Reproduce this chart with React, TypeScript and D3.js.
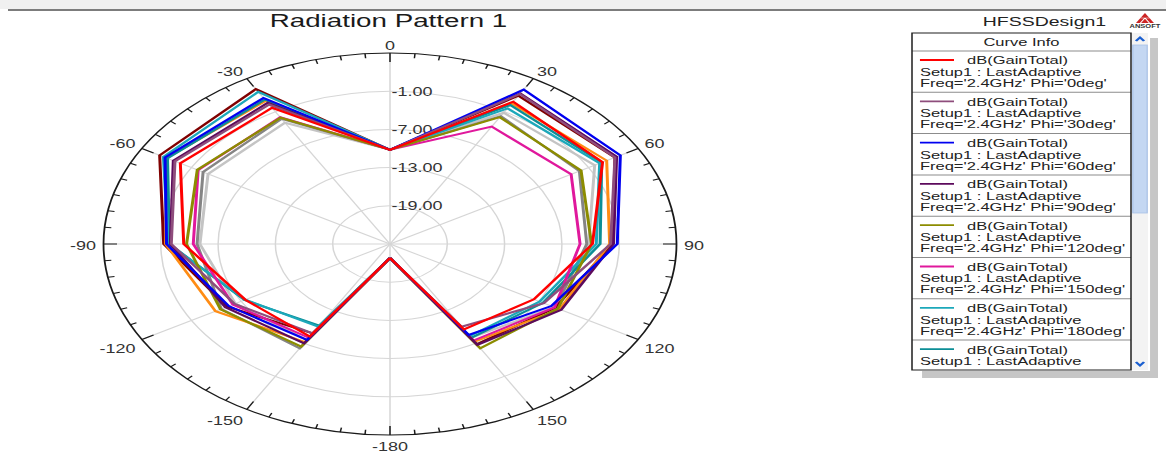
import { useEffect, useRef } from 'react';
import * as d3 from 'd3';

const WIDTH = 1166;
const HEIGHT = 456;
// the captured plot is stretched horizontally, so everything is drawn in a squeezed frame
const STRETCH = 1.5;
const FONT = '"Liberation Sans", Arial, sans-serif';

const THETA = [-180, -150, -120, -90, -60, -30, 0, 30, 60, 90, 120, 150, 180];

const PHI = ['0deg', '30deg', '60deg', '90deg', '120deg', '150deg', '180deg', '210deg', '240deg', '270deg', '300deg', '330deg'];

const CURVE_COLORS = [
  '#ff0000', '#8e4d7c', '#0000f0', '#5c0a5c', '#8c8c00', '#e0189c',
  '#1ca8ba', '#0c8e96', '#ff8c14', '#800000', '#858585', '#c4c4c4',
];

// dB(GainTotal) per theta, one array per phi cut
const GAIN_PHI_0 = [-22.8, -8.2, -7.5, -3.4, 0.35, -0.3, -10.2, 0.8, 0.7, -3.8, -7.6, -9.5, -22.8];
const GAIN_PHI_30 = [-22.8, -8.8, -6.2, -2.1, 1.0, 0.3, -10.2, 2.2, 2.2, -1.9, -6.4, -10.0, -22.8];
const GAIN_PHI_60 = [-22.8, -7.6, -5.5, -1.6, 2.2, 1.5, -10.2, 3.0, 2.85, -1.2, -5.5, -8.5, -22.8];
const GAIN_PHI_90 = [-22.8, -7.0, -5.1, -2.0, 1.2, 0.6, -10.2, 2.3, 2.4, -1.6, -4.3, -6.7, -22.8];
const GAIN_PHI_120 = [-22.8, -6.4, -4.5, -3.7, -1.7, -2.1, -10.2, -2.0, -1.9, -3.9, -4.7, -6.1, -22.8];
const GAIN_PHI_150 = [-22.8, -8.0, -6.0, -4.4, -1.8, -2.0, -10.2, -3.7, -3.1, -5.1, -5.1, -7.5, -22.8];
const GAIN_PHI_180 = [-22.8, -10.0, -7.5, -1.8, 2.4, 2.6, -10.2, -0.4, 0.35, -3.4, -6.9, -8.3, -22.8];
const GAIN_PHI_210 = [-22.8, -10.2, -7.4, -1.9, 1.9, 1.2, -10.2, 0.2, 0.6, -3.0, -6.5, -8.0, -22.8];
const GAIN_PHI_240 = [-22.8, -7.2, -3.9, -1.5, 2.0, 1.0, -10.2, 0.5, 1.2, -2.0, -4.5, -7.3, -22.8];
const GAIN_PHI_270 = [-22.8, -8.8, -5.3, -1.3, 2.85, 3.1, -10.2, 1.9, 2.2, -1.7, -5.0, -6.8, -22.8];
const GAIN_PHI_300 = [-22.8, -6.1, -4.6, -4.8, -2.4, -2.3, -10.2, -1.8, -2.1, -4.4, -5.0, -6.8, -22.8];
const GAIN_PHI_330 = [-22.8, -7.6, -6.3, -5.1, -3.0, -3.0, -10.2, -1.2, -0.25, -4.2, -5.2, -8.0, -22.8];

const GAIN = [
  GAIN_PHI_0, GAIN_PHI_30, GAIN_PHI_60, GAIN_PHI_90, GAIN_PHI_120, GAIN_PHI_150,
  GAIN_PHI_180, GAIN_PHI_210, GAIN_PHI_240, GAIN_PHI_270, GAIN_PHI_300, GAIN_PHI_330,
];

const R_MIN = -25;
const R_MAX = 5;
const RADIAL_TICKS = [-19, -13, -7, -1];
const ANGLE_TICKS = [-150, -120, -90, -60, -30, 0, 30, 60, 90, 120, 150, 180];

export default function App() {
  const svgRef = useRef<SVGSVGElement>(null);

  useEffect(() => {
    if (!svgRef.current) return;
    const svg = d3.select(svgRef.current);
    svg.selectAll('*').remove();

    // window chrome strip at the top
    svg.append('rect').attr('width', WIDTH).attr('height', 9).attr('fill', '#f0f0f0');
    svg.append('rect').attr('x', 8).attr('y', 9).attr('width', WIDTH - 8).attr('height', 2).attr('fill', '#7c7c7c');

    const root = svg.append('g').attr('transform', `scale(${STRETCH},1)`).style('font-family', FONT);

    root.append('text')
      .attr('x', 259).attr('y', 27)
      .attr('text-anchor', 'middle')
      .attr('font-size', 18.5).attr('fill', '#1a1a1a')
      .text('Radiation Pattern 1');

    const cx = 260;
    const cy = 244;
    const outer = 191;
    const r = d3.scaleLinear().domain([R_MIN, R_MAX]).range([0, outer]);
    const rad = (deg: number) => (deg * Math.PI) / 180;

    const chart = root.append('g').attr('transform', `translate(${cx},${cy})`);

    // grid rings
    chart.append('g').selectAll('circle').data(RADIAL_TICKS).join('circle')
      .attr('r', d => r(d))
      .attr('fill', 'none').attr('stroke', '#d6d6d6').attr('stroke-width', 1);

    // spokes
    chart.append('g').selectAll('line').data(d3.range(0, 360, 30)).join('line')
      .attr('x1', 0).attr('y1', 0)
      .attr('x2', d => outer * Math.sin(rad(d)))
      .attr('y2', d => -outer * Math.cos(rad(d)))
      .attr('stroke', '#d6d6d6').attr('stroke-width', 1);

    // outer circle + ticks
    chart.append('circle').attr('r', outer).attr('fill', 'none').attr('stroke', '#1a1a1a').attr('stroke-width', 1.2);
    chart.append('g').selectAll('line').data(d3.range(-180, 180, 5)).join('line')
      .attr('x1', d => outer * Math.sin(rad(d)))
      .attr('y1', d => -outer * Math.cos(rad(d)))
      .attr('x2', d => (outer - (d % 30 === 0 ? 9 : 4.5)) * Math.sin(rad(d)))
      .attr('y2', d => -(outer - (d % 30 === 0 ? 9 : 4.5)) * Math.cos(rad(d)))
      .attr('stroke', '#1a1a1a').attr('stroke-width', 1);

    // angle labels: text box corner sits just outside the circle
    const LABEL_R = 196;
    const side = (v: number) => (Math.abs(v) < 0.01 ? 0 : Math.sign(v));
    chart.append('g').selectAll('text').data(ANGLE_TICKS).join('text')
      .attr('x', d => LABEL_R * Math.sin(rad(d)))
      .attr('y', d => -LABEL_R * Math.cos(rad(d)) - side(Math.cos(rad(d))) * 4.5 + 2)
      .attr('text-anchor', d => {
        const s = side(Math.sin(rad(d)));
        return s > 0 ? 'start' : s < 0 ? 'end' : 'middle';
      })
      .attr('dominant-baseline', 'central')
      .attr('font-size', 12).attr('fill', '#333')
      .text(d => (d === 180 ? '-180' : String(d)));

    // radial labels
    chart.append('g').selectAll('text').data(RADIAL_TICKS).join('text')
      .attr('x', 1)
      .attr('y', d => -r(d))
      .attr('dominant-baseline', 'central')
      .attr('font-size', 12).attr('fill', '#333')
      .text(d => d.toFixed(2));

    // curves, red last so it sits on top
    const line = d3.lineRadial<number>()
      .angle((_, i) => rad(THETA[i]))
      .radius(v => r(v));

    const order = GAIN.map((_, i) => i).reverse();
    chart.append('g').selectAll('path').data(order).join('path')
      .attr('d', i => line(GAIN[i]))
      .attr('fill', 'none')
      .attr('stroke', i => CURVE_COLORS[i])
      .attr('stroke-width', 2)
      .attr('stroke-linejoin', 'miter');

    // header right
    root.append('text')
      .attr('x', 696.3).attr('y', 26)
      .attr('text-anchor', 'middle')
      .attr('font-size', 13).attr('fill', '#222')
      .text('HFSSDesign1');

    const logo = root.append('g');
    logo.append('polygon')
      .attr('points', '763.3,13 757.3,23 769.3,23')
      .attr('fill', '#cc2424');
    logo.append('path')
      .attr('d', 'M760.3,18 L766.3,18 M763.3,18 L760.3,23 M763.3,18 L766.3,23')
      .attr('stroke', '#ffffff').attr('stroke-width', 0.7);
    logo.append('text')
      .attr('x', 763.3).attr('y', 28)
      .attr('text-anchor', 'middle')
      .attr('font-size', 5).attr('font-weight', 700).attr('fill', '#333')
      .text('ANSOFT');

    // legend
    const LX = 608;
    const LY = 33;
    const LW = 146;
    const LH = 337;
    const HEAD = 18;
    const ROW = 41.3;
    const LIMIT = LY + LH - 3;

    root.append('rect').attr('x', 766.7).attr('y', 38).attr('width', 5.3).attr('height', 340).attr('fill', '#c6c6c6');
    root.append('rect').attr('x', 614.7).attr('y', LY + LH + 1).attr('width', 157.3).attr('height', 7).attr('fill', '#c6c6c6');

    root.append('rect')
      .attr('x', LX).attr('y', LY).attr('width', LW).attr('height', LH)
      .attr('fill', '#ffffff');

    const legend = root.append('g');
    legend.append('text')
      .attr('x', LX + LW / 2).attr('y', LY + 13)
      .attr('text-anchor', 'middle')
      .attr('font-size', 11).attr('fill', '#222')
      .text('Curve Info');
    legend.append('line')
      .attr('x1', LX).attr('x2', LX + LW).attr('y1', LY + HEAD).attr('y2', LY + HEAD)
      .attr('stroke', '#8c8c8c');

    // only the rows that fit in the scrolled box are shown
    PHI.forEach((phi, i) => {
      const top = LY + HEAD + i * ROW;
      if (top + 13.5 > LIMIT) return;
      legend.append('line')
        .attr('x1', 613.3).attr('x2', 636).attr('y1', top + 9).attr('y2', top + 9)
        .attr('stroke', CURVE_COLORS[i]).attr('stroke-width', 1.8);
      const rows: [number, number, string][] = [
        [644.7, 13.5, 'dB(GainTotal)'],
        [613.3, 25, 'Setup1 : LastAdaptive'],
        [613.3, 36, `Freq='2.4GHz' Phi='${phi}'`],
      ];
      rows.filter(([, dy]) => top + dy <= LIMIT).forEach(([x, dy, label]) => {
        legend.append('text')
          .attr('x', x).attr('y', top + dy)
          .attr('font-size', 11).attr('fill', '#222')
          .text(label);
      });
      if (top + ROW < LY + LH) {
        legend.append('line')
          .attr('x1', LX).attr('x2', LX + LW).attr('y1', top + ROW).attr('y2', top + ROW)
          .attr('stroke', '#8c8c8c');
      }
    });

    root.append('rect')
      .attr('x', LX).attr('y', LY).attr('width', LW).attr('height', LH)
      .attr('fill', 'none').attr('stroke', '#1e1e1e').attr('stroke-width', 1);

    // scrollbar
    const SX = 754.7;
    const SW = 10.6;
    root.append('rect').attr('x', SX).attr('y', LY).attr('width', SW).attr('height', LH).attr('fill', '#f3f3f3');
    root.append('rect').attr('x', SX + 0.5).attr('y', LY + 12).attr('width', SW - 1).attr('height', 168)
      .attr('fill', '#c4d7f2').attr('stroke', '#a9c1e6').attr('stroke-width', 0.8);
    root.append('path')
      .attr('d', `M${SX + 2.6},${LY + 8} L${SX + SW / 2},${LY + 4.5} L${SX + SW - 2.6},${LY + 8}`)
      .attr('fill', 'none').attr('stroke', '#1a5fd0').attr('stroke-width', 1.8);
    root.append('path')
      .attr('d', `M${SX + 2.6},${LY + LH - 8} L${SX + SW / 2},${LY + LH - 4.5} L${SX + SW - 2.6},${LY + LH - 8}`)
      .attr('fill', 'none').attr('stroke', '#1a5fd0').attr('stroke-width', 1.8);
  }, []);

  return (
    <svg
      ref={svgRef}
      width={WIDTH}
      height={HEIGHT}
      style={{ position: 'absolute', left: 0, top: 0, background: '#ffffff' }}
    />
  );
}
